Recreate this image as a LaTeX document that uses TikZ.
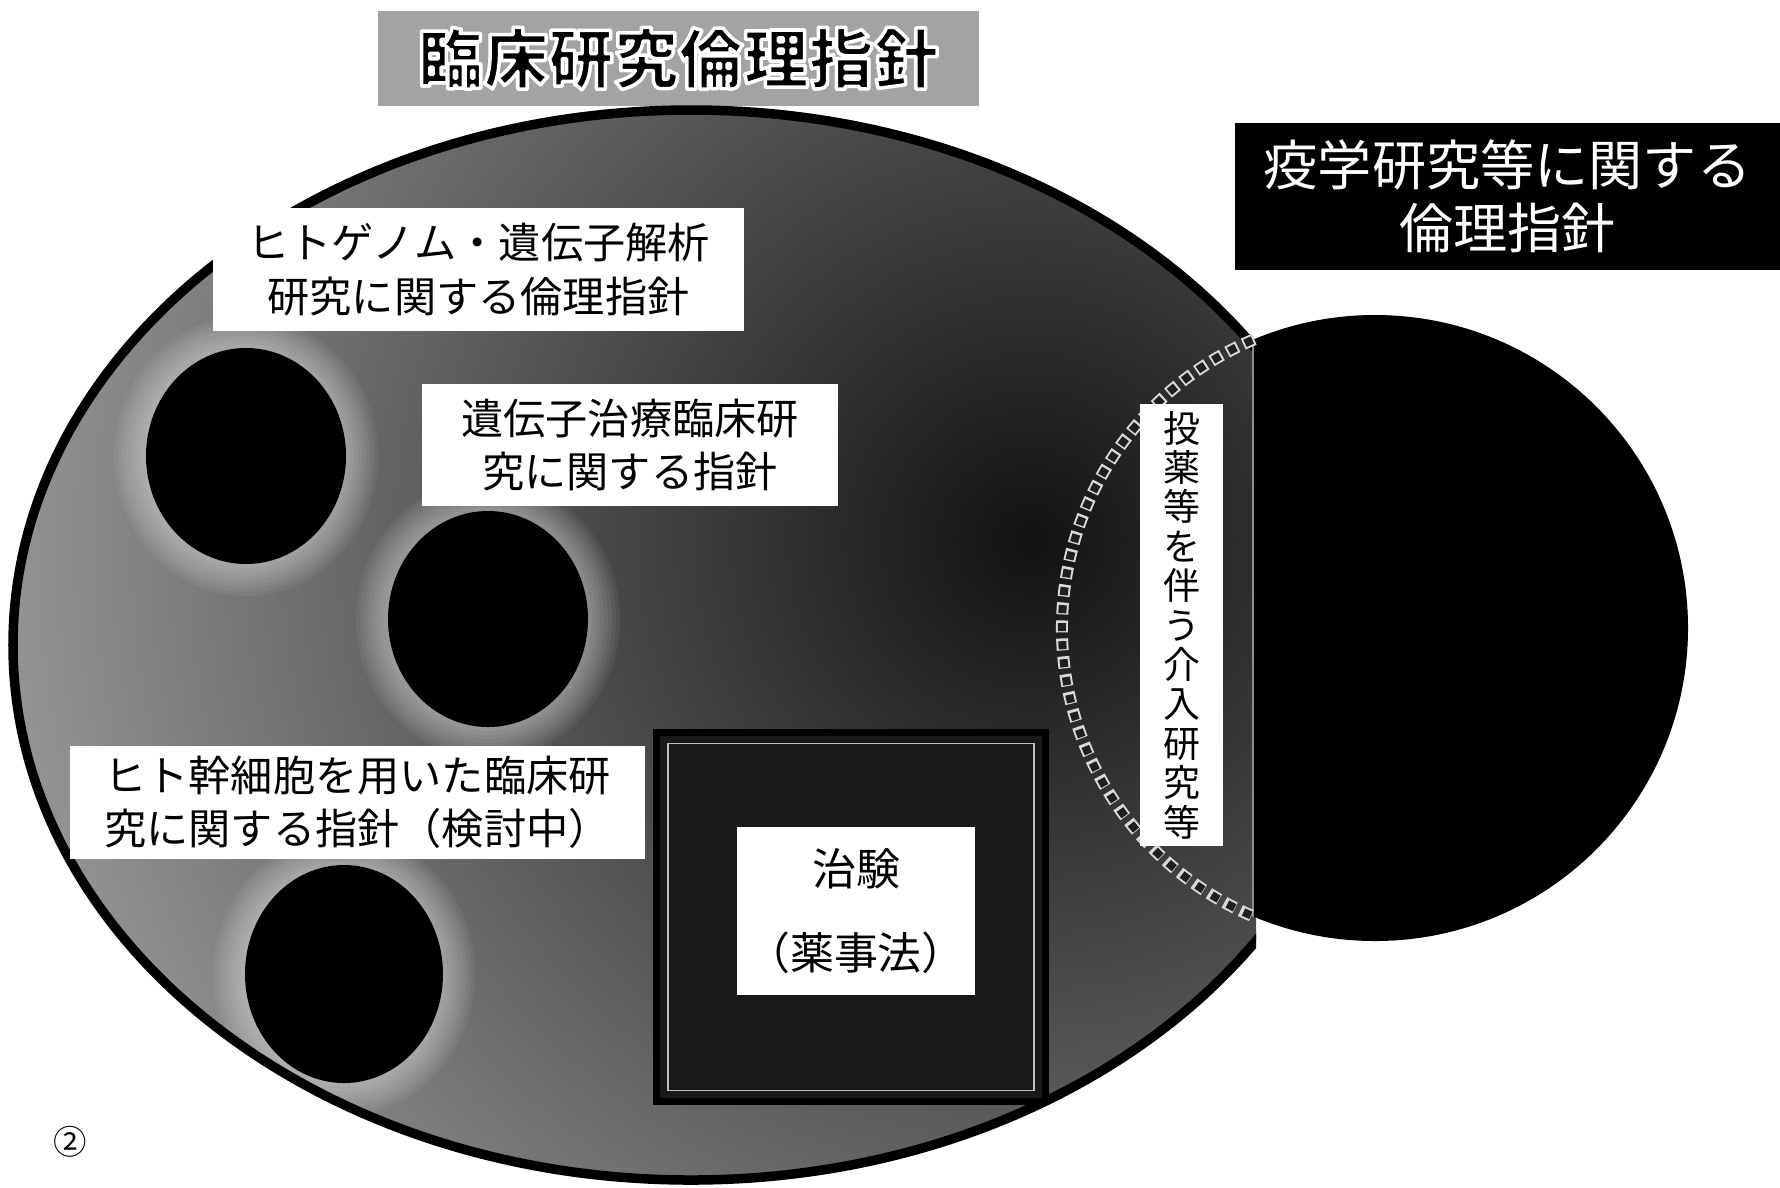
\documentclass[tikz,border=0pt]{standalone}
\usepackage{fontspec}
\setmainfont{Noto Sans CJK JP}
\newcommand\outlinetxt[1]{\special{pdf:literal direct 2 Tr 1 1 1 RG 1.0 w 1 j}#1\special{pdf:literal direct 0 Tr 0 G}}
\begin{document}
\begin{tikzpicture}[x=0.01cm,y=0.01cm,
  lbl/.style={fill=white, inner sep=0pt, align=center, font=\fontsize{12}{15.1}\selectfont},
  blob/.style={fill=black, draw=none},
  halo/.style={fill=white, opacity=0.055},
  titlebox/.style={fill=black!36, inner sep=0pt, font=\fontsize{18.5}{20}\selectfont\bfseries},
  darkbox/.style={fill=black, inner sep=0pt, align=center, text=white, font=\fontsize{15.4}{17.8}\selectfont},
  sqdots/.style={white!85!black, line width=3.41pt, dash pattern=on 3.41pt off 1.71pt},
  sqholes/.style={black!88, line width=2.28pt, dash pattern=on 2.28pt off 2.85pt, dash phase=4.55pt}]
\useasboundingbox (0,0) rectangle (1780,-1187);
\fill[white] (0,0) rectangle (1780,-1187);

% title
\node[titlebox, minimum width=6.01cm, minimum height=0.95cm] (title) at (678.5,-58.5) {\outlinetxt{臨床研究倫理指針}};

% big ellipse
\begin{scope}
  \clip (-10,10) rectangle (1256,-1200);
  \begin{scope}
    \clip (691,-645) ellipse [x radius=678, y radius=535];
    \shade[inner color=black!93, outer color=black!36] (1030,-540) circle (1150);
    \foreach \cx/\cy/\rx/\ry in {246/-456/100/108, 488/-619/100/108, 344/-974/99/109} {
      \foreach \d in {4,8,...,32} {
        \fill[halo] (\cx,\cy) ellipse [x radius=\rx+\d, y radius=\ry+\d];
      }
    }
  \end{scope}
  \draw[line width=0.095cm] (691,-645) ellipse [x radius=678, y radius=535];
\end{scope}

% black circles
\fill[blob] (246,-456) ellipse [x radius=100, y radius=108];
\fill[blob] (488,-619) ellipse [x radius=100, y radius=108];
\fill[blob] (344,-974) ellipse [x radius=99, y radius=109];

% trial square
\node[draw=black, line width=0.07cm, fill=black!90, minimum width=3.88cm, minimum height=3.69cm, inner sep=0pt] (sq) at (851,-917) {};
\node[draw=white!75!black, line width=0.4pt, minimum width=3.66cm, minimum height=3.47cm, inner sep=0pt] (sqin) at (sq.center) {};
\node[lbl, minimum width=2.37cm, minimum height=1.68cm, font=\fontsize{12.5}{24}\selectfont] (chiken) at (856,-911) {治験\\（薬事法）};

% epidemiology circle
\begin{scope}
  \clip (1254,0) rectangle (1780,-1187);
  \fill[blob] (1375,-628) circle (313);
\end{scope}
\draw[black!45, line width=0.5pt] (1253,-339) -- (1253,-917);
\draw[sqdots] (1375,-628) ++(112.7:313) arc[start angle=112.7, end angle=247.3, radius=313];
\draw[sqholes] (1375,-628) ++(112.7:313) arc[start angle=112.7, end angle=247.3, radius=313];

% labels
\node[lbl, minimum width=5.31cm, minimum height=1.23cm] (genome) at (478.5,-269.5) {ヒトゲノム・遺伝子解析\\研究に関する倫理指針};
\node[lbl, minimum width=4.16cm, minimum height=1.22cm] (gene) at (630,-445) {遺伝子治療臨床研\\究に関する指針};
\node[lbl, minimum width=5.75cm, minimum height=1.13cm] (stem) at (357.5,-802.5) {ヒト幹細胞を用いた臨床研\\究に関する指針（検討中）};
\node[darkbox, minimum width=5.45cm, minimum height=1.47cm] (epi) at (1507.5,-196.5) {疫学研究等に関する\\倫理指針};
\node[lbl, minimum width=0.83cm, minimum height=4.41cm, font=\fontsize{10.5}{11.2}\selectfont] (interv) at (1181.5,-625) {投\\薬\\等\\を\\伴\\う\\介\\入\\研\\究\\等};

\node[inner sep=0pt, font=\fontsize{9.5}{10}\selectfont] (num) at (70,-1142) {②};
\end{tikzpicture}
\end{document}
